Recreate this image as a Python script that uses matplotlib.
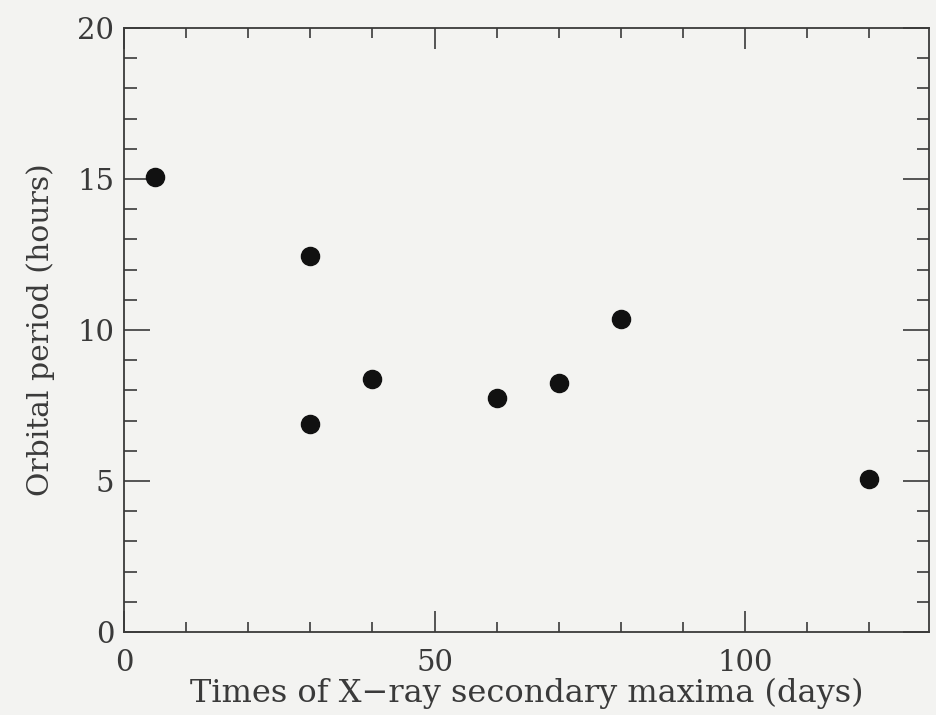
import numpy as np
import matplotlib.pyplot as plt
from matplotlib.ticker import MultipleLocator

# secondary maxima times (days) and orbital periods (hours)
times = [5, 30, 30, 40, 60, 70, 80, 120]
periods = [15.05, 12.45, 6.9, 8.38, 7.75, 8.25, 10.35, 5.05]

plt.rcParams['font.family'] = ['DejaVu Serif']

fig = plt.figure(figsize=(9.36, 7.15), dpi=100)
fig.patch.set_facecolor('#f3f3f1')
ax = fig.add_axes([124 / 936, 1 - 632 / 715, (929 - 124) / 936, (632 - 28) / 715])
ax.set_facecolor('#f3f3f1')

ax.scatter(times, periods, s=170, color='#111111', zorder=3)

ax.set_xlim(0, 129.6)
ax.set_ylim(0, 20)
ax.xaxis.set_major_locator(MultipleLocator(50))
ax.xaxis.set_minor_locator(MultipleLocator(10))
ax.yaxis.set_major_locator(MultipleLocator(5))
ax.yaxis.set_minor_locator(MultipleLocator(1))
ax.tick_params(which='both', direction='in', top=True, right=True,
               color='#3a3a3a', labelcolor='#3a3a3a', labelsize=21, width=1.2)
ax.tick_params(axis='x', which='major', length=15, pad=12)
ax.tick_params(axis='x', which='minor', length=7)
ax.tick_params(axis='y', which='major', length=19, pad=7)
ax.tick_params(axis='y', which='minor', length=9)
for s in ax.spines.values():
    s.set_color('#3a3a3a')
    s.set_linewidth(1.3)

ax.set_xlabel('Times of X\u2212ray secondary maxima (days)', fontsize=23, color='#3a3a3a', labelpad=1)
ax.set_ylabel('Orbital period (hours)', fontsize=21.5, color='#3a3a3a', labelpad=16)

fig.savefig('out.png', dpi=100, facecolor=fig.get_facecolor())
